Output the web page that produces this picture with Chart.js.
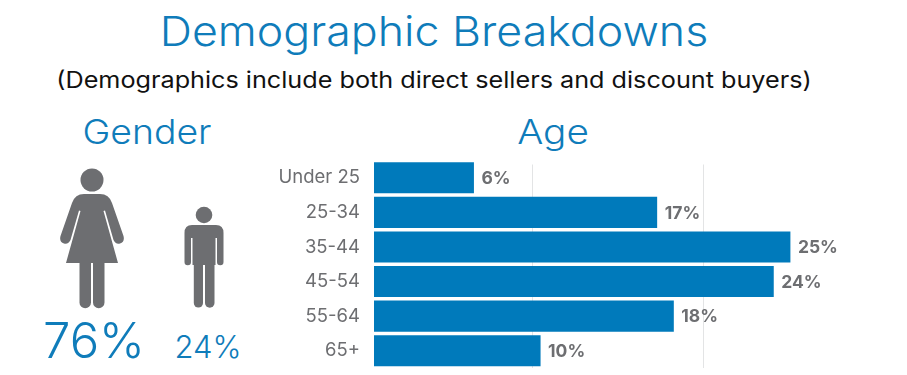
<!DOCTYPE html>
<html><head><meta charset="utf-8">
<style>
html,body{margin:0;padding:0;background:#fff;overflow:hidden}
body{width:907px;height:375px;position:relative;font-family:Inter,"Open Sans",sans-serif}
.t{position:absolute;white-space:nowrap;line-height:1;transform:translateX(-50%)}
.blue{color:#0f7cba;font-weight:300}
#wrap{position:absolute;left:0;top:0;width:907px;height:375px}
svg{position:absolute;left:0;top:0}
</style></head><body>
<div class="t blue" style="left:434px;top:11px;font-size:41px;transform:translateX(-50%) scaleX(1.09)">Demographic Breakdowns</div>
<div class="t" style="left:434px;top:69px;font-size:22.5px;color:#111;font-weight:400;transform:translateX(-50%) scaleX(1.12)">(Demographics include both direct sellers and discount buyers)</div>
<div class="t blue" style="left:147px;top:115px;font-size:34px;transform:translateX(-50%) scaleX(1.1)">Gender</div>
<div class="t blue" style="left:553px;top:115px;font-size:34px;transform:translateX(-50%) scaleX(1.14)">Age</div>
<div class="t blue" style="left:94px;top:316px;font-size:49px">76%</div>
<div class="t blue" style="left:208px;top:331px;font-size:31px">24%</div>
<svg width="907" height="375" fill="#6d6e71">
  <circle cx="92" cy="180" r="11.5"/>
  <path d="M84 194 H100 Q109 194 112 203 L123.500 236 Q125 242 120 243.500 Q115.500 244.500 113.500 240 L105 210.500 L103.500 211 L118 263 H66 L80.500 211 L79 210.500 L70.500 240 Q68.500 244.500 64 243.500 Q59 242 60.500 236 L72 203 Q75 194 84 194 Z"/>
  <path d="M79.500 263 H91 V302.500 A5.750 5.750 0 0 1 79.500 302.500 Z"/>
  <path d="M93 263 H104.500 V302.500 A5.750 5.750 0 0 1 93 302.500 Z"/>
  <circle cx="204" cy="215" r="8.300"/>
  <path d="M192 225 H216 Q223.500 225 223.500 233 V262 A3.200 3.200 0 0 1 217 262 V238 H215.500 V265 H192.500 V238 H191 V262 A3.200 3.200 0 0 1 184.500 262 V233 Q184.500 225 192 225 Z"/>
  <path d="M193.800 265 H203 V303 A4.600 4.600 0 0 1 193.800 303 Z"/>
  <path d="M205 265 H214.500 V303 A4.750 4.750 0 0 1 205 303 Z"/>
</svg>
<div id="wrap"><canvas id="c" width="907" height="375"></canvas></div>
<script src="https://cdn.jsdelivr.net/npm/chart.js@4"></script>
<script>
const ageGroups = ["Under 25","25-34","35-44","45-54","55-64","65+"];
const agePercent = [6,17,25,24,18,10];
const gridValues = [9.52,19.8];

const barLabels = {
  id:'barLabels',
  afterDatasetsDraw(chart){
    const {ctx} = chart, meta = chart.getDatasetMeta(0);
    ctx.save();
    ctx.font = '700 17.5px Inter, "Open Sans", sans-serif';
    ctx.fillStyle = '#6d6e71';
    ctx.textBaseline = 'middle';
    meta.data.forEach((b,i)=>{
      ctx.fillText(agePercent[i]+'%', b.x+7.5, b.y+1);
    });
    ctx.restore();
  }
};
const gridTopCover = {
  id:'gridTopCover',
  beforeDatasetsDraw(chart){
    const a = chart.chartArea, c = chart.ctx;
    c.save(); c.fillStyle='#fff';
    c.fillRect(a.left, a.top-1, a.width, 5);
    c.restore();
  }
};
new Chart(document.getElementById('c'),{
  type:'bar',
  data:{labels:ageGroups,datasets:[{data:agePercent,backgroundColor:'#007abb',borderWidth:0,barPercentage:0.9,categoryPercentage:1}]},
  plugins:[gridTopCover,barLabels],
  options:{
    indexAxis:'y',responsive:false,animation:false,
    layout:{padding:{left:0,top:160.5,right:0,bottom:7}},
    plugins:{legend:{display:false},tooltip:{enabled:false},title:{display:false}},
    scales:{
      x:{min:0,max:32,position:'bottom',
        afterFit(s){s.height=0},
        afterBuildTicks(s){s.ticks=gridValues.map(v=>({value:v}))},
        ticks:{display:false},
        grid:{color:'#e3e4e5',lineWidth:1,drawTicks:false},border:{display:false}},
      y:{
        afterFit(s){s.width=374;s.paddingTop=0;s.paddingBottom=0},
        grid:{display:false},border:{display:false},
        ticks:{color:'#6d6e71',font:{family:'Inter, "Open Sans", sans-serif',size:18.5,weight:'400'},padding:6}
      }
    }
  }
});
</script>
</body></html>
